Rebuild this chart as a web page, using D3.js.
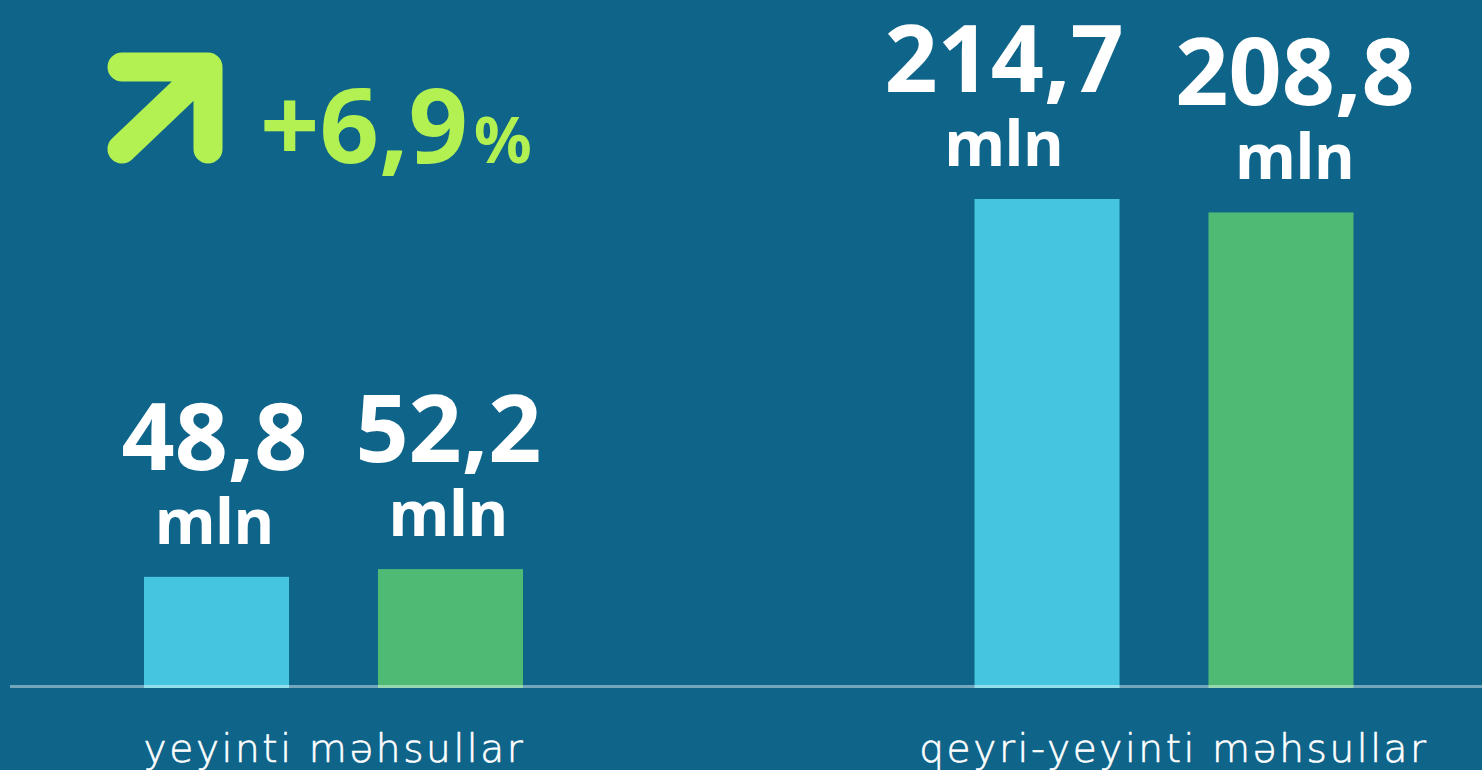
<!DOCTYPE html>
<html>
<head>
<meta charset="utf-8">
<script src="https://cdn.jsdelivr.net/npm/d3@7"></script>
<style>
  html, body { margin: 0; padding: 0; background: #0f648a; overflow: hidden; }
</style>
</head>
<body>
<div id="chart"></div>
<script>
// Kateqoriyalar və seriyalar
const categories = ["yeyinti məhsullar", "qeyri-yeyinti məhsullar"];
const series = ["əvvəl", "sonra"];
const valuesBefore = [48.8, 214.7];
const valuesAfter = [52.2, 208.8];
const valueLabels = [["48,8", "52,2"], ["214,7", "208,8"]];
const unitLabel = "mln";
const changeLabel = "+6,9";

const width = 1482, height = 770;
const baseY = 688;
const colors = { "əvvəl": "#45c5e0", "sonra": "#4fba74" };

const rows = [];
categories.forEach((c, i) => {
    rows.push({ cat: c, s: series[0], v: valuesBefore[i], label: valueLabels[i][0] });
    rows.push({ cat: c, s: series[1], v: valuesAfter[i], label: valueLabels[i][1] });
});

const svg = d3.select("#chart")
    .append("svg")
    .attr("width", width)
    .attr("height", height);

svg.append("rect")
    .attr("width", width)
    .attr("height", height)
    .attr("fill", "#0f648a");

// Ölçülər
const x0 = d3.scalePoint()
    .domain(categories)
    .range([333.5, 1164]);

const x1 = d3.scaleBand()
    .domain(series)
    .range([-189.5, 189.5])
    .paddingInner(0.38)
    .paddingOuter(0);

const y = d3.scaleLinear()
    .domain([0, d3.max(valuesBefore)])
    .range([baseY, 199]);

// Sütunlar
svg.selectAll("rect.bar")
    .data(rows)
    .enter()
    .append("rect")
    .attr("class", "bar")
    .attr("x", d => x0(d.cat) + x1(d.s))
    .attr("y", d => y(d.v))
    .attr("width", x1.bandwidth())
    .attr("height", d => baseY - y(d.v))
    .attr("fill", d => colors[d.s]);

// Əsas xətt
svg.append("rect")
    .attr("x", 10)
    .attr("y", baseY - 3)
    .attr("width", width - 10)
    .attr("height", 3)
    .attr("fill", "rgba(255,255,255,0.42)");

// Etiketlər (ikinci qrupda bir az sürüşdürülüb)
const shift = (d) => d.cat === categories[1] ? (d.s === series[0] ? -43 : 14) : -2;
const cx = d => x0(d.cat) + x1(d.s) + x1.bandwidth() / 2 + shift(d);

svg.selectAll("text.val")
    .data(rows)
    .enter()
    .append("text")
    .attr("class", "val")
    .attr("x", cx)
    .attr("y", d => y(d.v) - 107)
    .attr("text-anchor", "middle")
    .attr("font-family", "'Noto Sans', sans-serif")
    .attr("font-weight", 700)
    .attr("font-size", 93)
    .attr("fill", "#ffffff")
    .text(d => d.label);

svg.selectAll("text.unit")
    .data(rows)
    .enter()
    .append("text")
    .attr("class", "unit")
    .attr("x", cx)
    .attr("y", d => y(d.v) - 33)
    .attr("text-anchor", "middle")
    .attr("font-family", "'Noto Sans', sans-serif")
    .attr("font-weight", 700)
    .attr("font-size", 62)
    .attr("fill", "#ffffff")
    .text(unitLabel);

// Kateqoriya adları
svg.selectAll("text.cat")
    .data(categories)
    .enter()
    .append("text")
    .attr("class", "cat")
    .attr("x", (d, i) => x0(d) + (i === 1 ? 10 : 1))
    .attr("y", 762)
    .attr("text-anchor", "middle")
    .attr("font-family", "'DejaVu Sans', sans-serif")
    .attr("font-weight", 200)
    .attr("font-size", 39)
    .attr("letter-spacing", 2.6)
    .attr("stroke", "#ffffff")
    .attr("stroke-width", 0.6)
    .attr("fill", "#ffffff")
    .text(d => d);

// Artım göstəricisi
const green = "#b3f152";
svg.append("path")
    .attr("d", "M122,67 L208,67 L208,149 M206,69 L122,149")
    .attr("fill", "none")
    .attr("stroke", green)
    .attr("stroke-width", 29)
    .attr("stroke-linecap", "round")
    .attr("stroke-linejoin", "round");

const chg = svg.append("text")
    .attr("x", 260)
    .attr("y", 163)
    .attr("font-family", "'Noto Sans', sans-serif")
    .attr("font-weight", 700)
    .attr("font-size", 104)
    .attr("fill", green);
chg.append("tspan").text(changeLabel);
chg.append("tspan").attr("font-size", 64).attr("dx", 6).text("%");
</script>
</body>
</html>
